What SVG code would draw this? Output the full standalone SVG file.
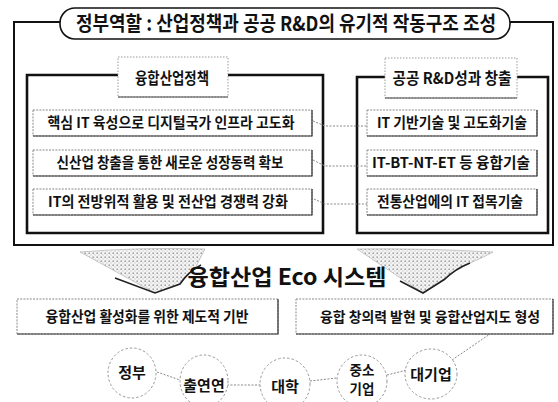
<svg xmlns="http://www.w3.org/2000/svg" width="558" height="402" viewBox="0 0 558 402">
<style>
text{font-family:"Noto Sans CJK KR","Noto Sans",sans-serif;font-weight:700;fill:#111;text-anchor:middle}
.frame{fill:none;stroke:#111;stroke-width:2.6;stroke-linejoin:miter}
.outer{fill:none;stroke:#111;stroke-width:2}
.box{fill:#fff;stroke:#8a8a8a;stroke-width:1;stroke-dasharray:2 1.2}
.shadow{fill:none;stroke:#333;stroke-width:1.2}
.lbl{fill:#fff;stroke:#9a9a9a;stroke-width:1;stroke-dasharray:1.5 1.5}
.conn{fill:none;stroke:#888;stroke-width:1;stroke-dasharray:2 1.5}
.circ{fill:#fff;stroke:#999;stroke-width:1;stroke-dasharray:2.5 2}
.dark{fill:none;stroke:#222;stroke-width:1.6}
.t14{font-size:14.5px}
.t15{font-size:15.5px}
.tn{font-size:15px}
</style>
<defs>
<pattern id="dots" width="4" height="4" patternUnits="userSpaceOnUse">
<rect width="4" height="4" fill="#f4f4f4"/>
<rect x="0.5" y="0.5" width="1.4" height="1.4" fill="#8c8c8c"/>
<rect x="2.5" y="2.5" width="1" height="1" fill="#b5b5b5"/>
</pattern>
</defs>
<rect width="558" height="402" fill="#fff"/>

<g id="outer-frame">
<path class="outer" d="M60,22 H14 V245 H553 V22 H510"/>
</g>
<g id="title">
<rect x="60" y="8" width="450" height="31" rx="15" fill="#fff" stroke="#111" stroke-width="1.6"/>
<text x="286" y="31" font-size="20" textLength="420" lengthAdjust="spacingAndGlyphs">정부역할 : 산업정책과 공공 R&amp;D의 유기적 작동구조 조성</text>
</g>

<g id="frame-left">
<path class="frame" d="M118,75 H27 V233 H323 V75 H228"/>
</g>
<g id="label-left">
<rect class="lbl" x="118" y="57" width="110" height="40"/>
<line x1="118" y1="97" x2="228" y2="97" stroke="#444" stroke-width="1.2"/>
<text class="t15" x="172" y="84" textLength="74" lengthAdjust="spacingAndGlyphs">융합산업정책</text>
</g>

<g id="frame-right">
<path class="frame" d="M385,77 H357 V233 H548 V77 H517"/>
</g>
<g id="label-right">
<rect class="lbl" x="385" y="58" width="132" height="40"/>
<line x1="385" y1="98" x2="517" y2="98" stroke="#444" stroke-width="1.2"/>
<text class="t15" x="452" y="84" textLength="119" lengthAdjust="spacingAndGlyphs">공공 R&amp;D성과 창출</text>
</g>

<g id="policy-1">
<rect class="box" x="33" y="110" width="279" height="26"/>
<path class="shadow" d="M33,136 H312 V110"/>
<text class="t14" x="171" y="128" textLength="247" lengthAdjust="spacingAndGlyphs">핵심 IT 육성으로 디지털국가 인프라 고도화</text>
</g>
<g id="policy-2">
<rect class="box" x="33" y="150" width="279" height="26"/>
<path class="shadow" d="M33,176 H312 V150"/>
<text class="t14" x="170" y="168" textLength="227" lengthAdjust="spacingAndGlyphs">신산업 창출을 통한 새로운 성장동력 확보</text>
</g>
<g id="policy-3">
<rect class="box" x="33" y="189" width="279" height="26"/>
<path class="shadow" d="M33,215 H312 V189"/>
<text class="t14" x="168" y="207" textLength="240" lengthAdjust="spacingAndGlyphs">IT의 전방위적 활용 및 전산업 경쟁력 강화</text>
</g>

<g id="rd-1">
<rect class="box" x="367" y="110" width="170" height="26"/>
<path class="shadow" d="M367,136 H537 V110"/>
<text class="t14" x="452" y="128" textLength="150" lengthAdjust="spacingAndGlyphs">IT 기반기술 및 고도화기술</text>
</g>
<g id="rd-2">
<rect class="box" x="367" y="150" width="170" height="26"/>
<path class="shadow" d="M367,176 H537 V150"/>
<text class="t14" x="451" y="168" textLength="158" lengthAdjust="spacingAndGlyphs">IT-BT-NT-ET 등 융합기술</text>
</g>
<g id="rd-3">
<rect class="box" x="367" y="189" width="170" height="26"/>
<path class="shadow" d="M367,215 H537 V189"/>
<text class="t14" x="450" y="207" textLength="146" lengthAdjust="spacingAndGlyphs">전통산업에의 IT 접목기술</text>
</g>

<g id="arrow-left">
<path d="M80,252 Q140,247 205,249 Q200,258 196,267 Q186,276 180,284 L155,293 Z" fill="url(#dots)" stroke="#bbb" stroke-width="0.8"/>
<path class="dark" d="M115,278 L155,293 L180,284 Q188,272 201,265"/>
</g>
<g id="arrow-right">
<path d="M357,249 Q420,248 493,252 Q482,258 470,263 Q455,270 445,279 L423,293 Z" fill="url(#dots)" stroke="#bbb" stroke-width="0.8"/>
<path class="dark" d="M400,281 L423,293 L445,279 Q455,269 470,263"/>
</g>
<g id="eco">
<text x="287" y="285" font-size="22" textLength="199" lengthAdjust="spacingAndGlyphs">융합산업 Eco 시스템</text>
</g>

<g id="base-left">
<rect class="box" x="17" y="299" width="261" height="35"/>
<path class="shadow" d="M17,334 H278 V299"/>
<text class="tn" x="147" y="322" textLength="203" lengthAdjust="spacingAndGlyphs">융합산업 활성화를 위한 제도적 기반</text>
</g>
<g id="base-right">
<rect class="box" x="296" y="299" width="257" height="35"/>
<path class="shadow" d="M296,334 H553 V299"/>
<text x="430" y="322" font-size="14" textLength="220" lengthAdjust="spacingAndGlyphs">융합 창의력 발현 및 융합산업지도 형성</text>
</g>

<g id="connectors">
<polyline class="conn" points="313,121 325,126 367,126"/>
<polyline class="conn" points="313,160 325,166 367,166"/>
<polyline class="conn" points="314,199 325,204 367,204"/>
<line class="conn" x1="157" y1="372" x2="180" y2="380"/>
<line class="conn" x1="227" y1="385" x2="260" y2="385"/>
<line class="conn" x1="310" y1="381" x2="337" y2="378"/>
<line class="conn" x1="387" y1="375" x2="407" y2="370"/>
<line class="conn" x1="452" y1="360" x2="490" y2="334"/>
</g>

<g id="node-gov">
<ellipse class="circ" cx="132" cy="373" rx="24" ry="25"/>
<text class="tn" x="132" y="378">정부</text>
</g>
<g id="node-inst">
<ellipse class="circ" cx="204" cy="381" rx="24" ry="26"/>
<text class="tn" x="204" y="391">출연연</text>
</g>
<g id="node-univ">
<ellipse class="circ" cx="285" cy="384" rx="25" ry="26"/>
<text class="tn" x="285" y="392">대학</text>
</g>
<g id="node-sme">
<ellipse class="circ" cx="362" cy="381" rx="25" ry="26"/>
<text x="362" y="375" font-size="13.5">중소</text>
<text x="362" y="394" font-size="13.5">기업</text>
</g>
<g id="node-large">
<ellipse class="circ" cx="431" cy="374" rx="26" ry="25"/>
<text class="tn" x="431" y="380">대기업</text>
</g>
</svg>
